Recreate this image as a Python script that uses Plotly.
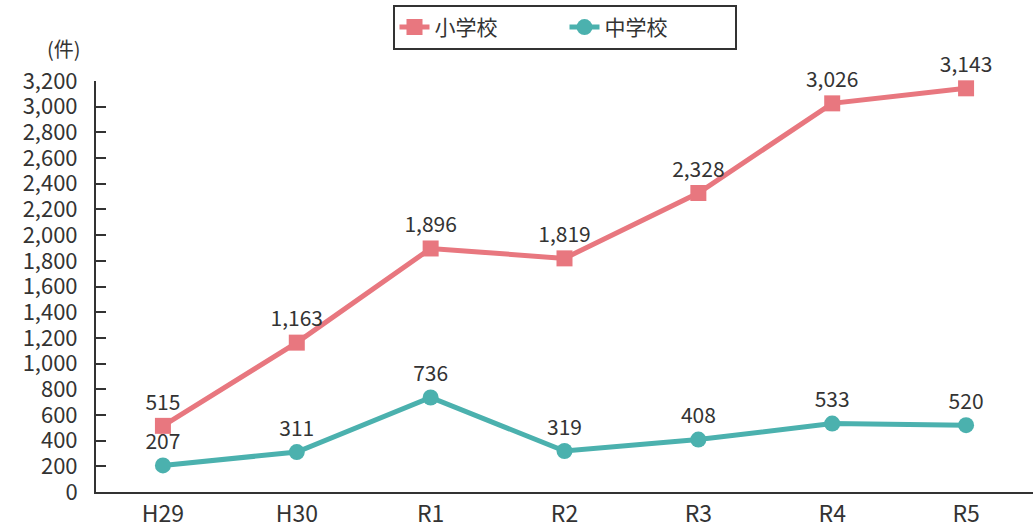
import plotly.graph_objects as go

years = ["H29", "H30", "R1", "R2", "R3", "R4", "R5"]
elementary = [515, 1163, 1896, 1819, 2328, 3026, 3143]
junior_high = [207, 311, 736, 319, 408, 533, 520]

PINK = "#E8777F"
TEAL = "#4BB1AE"
FONT = "Noto Sans CJK JP"
TEXT = "#333333"

fig = go.Figure()
fig.add_trace(go.Scatter(
    x=years, y=elementary, name="小学校",
    mode="lines+markers+text",
    line=dict(color=PINK, width=5),
    marker=dict(symbol="square", size=16, color=PINK),
    texttemplate="%{y:,}", textposition="top center",
    textfont=dict(size=21, color=TEXT, family=FONT),
    cliponaxis=False,
))
fig.add_trace(go.Scatter(
    x=years, y=junior_high, name="中学校",
    mode="lines+markers+text",
    line=dict(color=TEAL, width=5),
    marker=dict(symbol="circle", size=16, color=TEAL),
    texttemplate="%{y:,}", textposition="top center",
    textfont=dict(size=21, color=TEXT, family=FONT),
    cliponaxis=False,
))

fig.update_layout(
    width=1033, height=528,
    margin=dict(l=96, r=0, t=81, b=36, autoexpand=False),
    paper_bgcolor="white", plot_bgcolor="white",
    font=dict(family=FONT, color=TEXT),
    showlegend=True,
    legend=dict(
        orientation="h", x=0.5, xanchor="center", y=1.185, yanchor="top",
        bordercolor="#333333", borderwidth=2,
        font=dict(size=21, color=TEXT, family=FONT),
        entrywidth=125,
    ),
    xaxis=dict(
        type="category", range=[-0.5, 6.5],
        showline=True, linecolor="#333333", linewidth=2,
        showgrid=False, ticks="",
        tickfont=dict(size=23, color=TEXT, family=FONT),
    ),
    yaxis=dict(
        range=[0, 3200], dtick=200, tickformat=",",
        showline=True, linecolor="#333333", linewidth=2,
        showgrid=False, zeroline=False,
        ticks="inside", ticklen=10, tickcolor="#333333", tickwidth=1.5,
        ticklabelstandoff=12,
        tickfont=dict(size=22, color=TEXT, family=FONT),
    ),
    annotations=[dict(
        text="(件)", xref="paper", yref="paper", x=-0.054, y=1.08,
        yanchor="middle", showarrow=False,
        font=dict(size=20, color=TEXT, family=FONT),
    )],
)

fig.write_html("out.html", config={"displayModeBar": False},
               post_script="document.body.style.margin='0';")
